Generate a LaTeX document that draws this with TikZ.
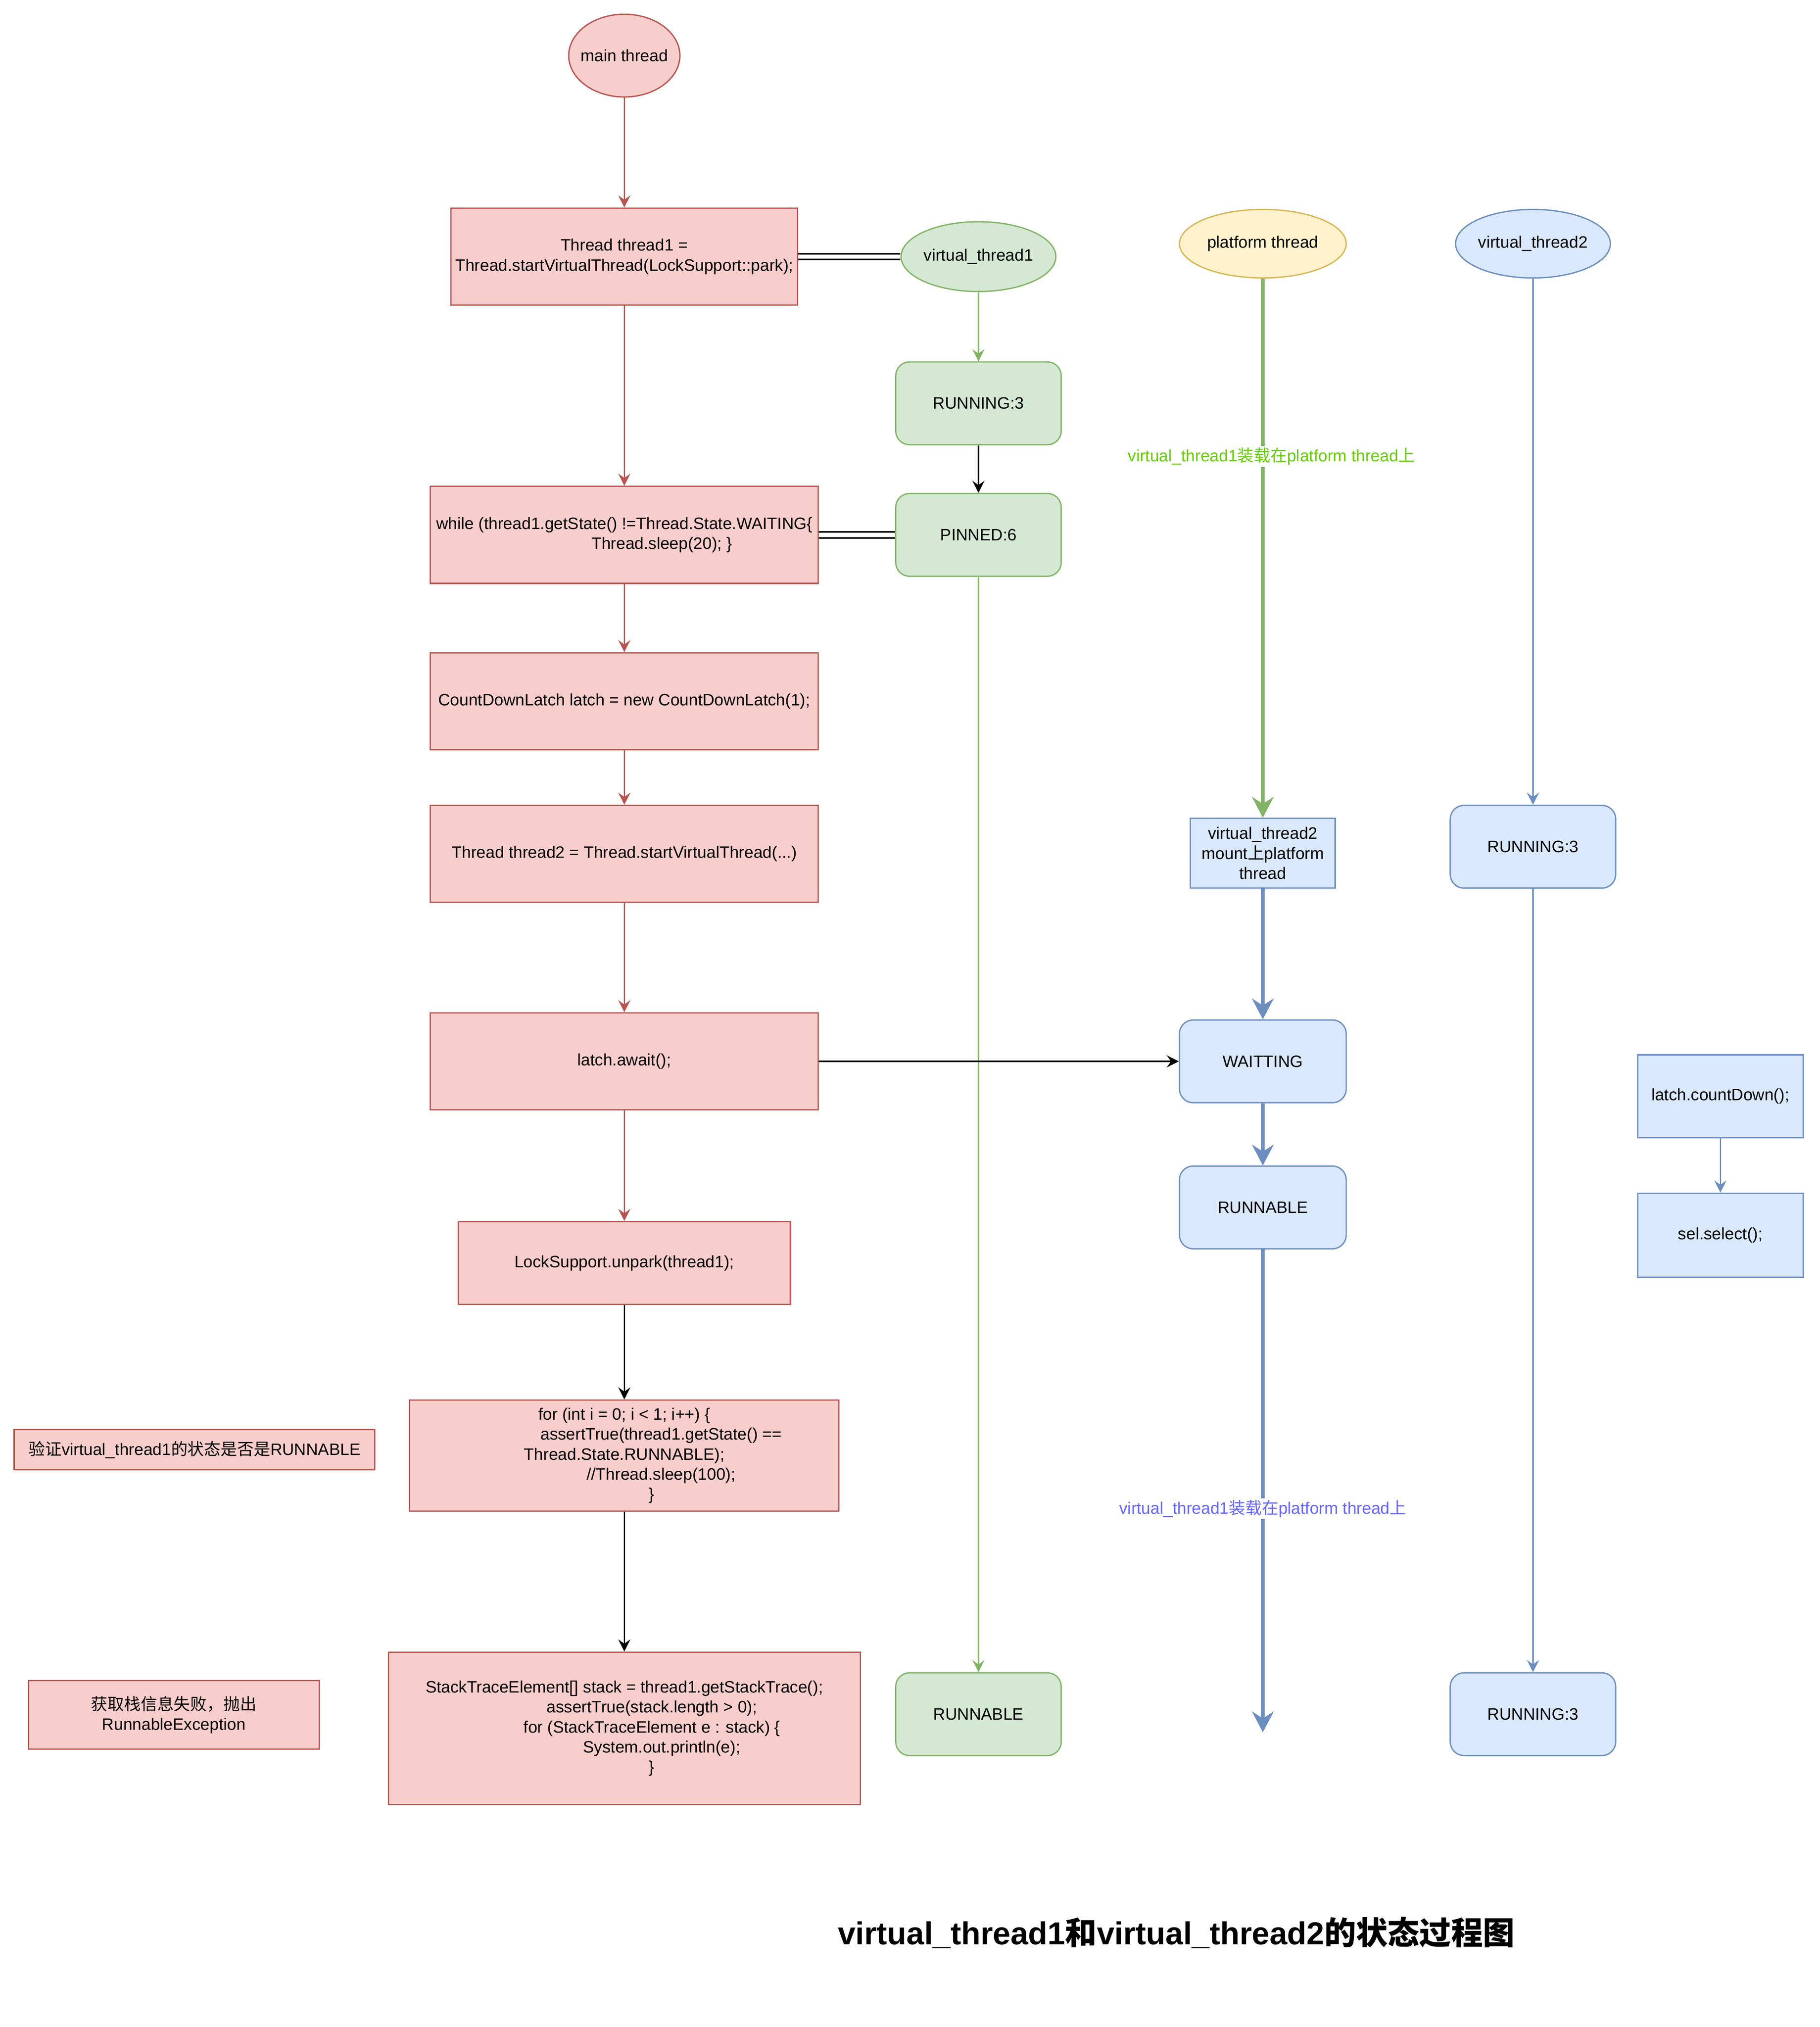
\documentclass[tikz,border=0pt]{standalone}
\usepackage{fontspec}
\setmainfont{Liberation Sans}
\newfontfamily\cjk{Noto Sans CJK SC}
\usetikzlibrary{arrows.meta,shapes.geometric}

\definecolor{redfill}{HTML}{F8CECC}
\definecolor{redline}{HTML}{B85450}
\definecolor{greenfill}{HTML}{D5E8D4}
\definecolor{greenline}{HTML}{82B366}
\definecolor{bluefill}{HTML}{DAE8FC}
\definecolor{blueline}{HTML}{6C8EBF}
\definecolor{yellowfill}{HTML}{FFF2CC}
\definecolor{yellowline}{HTML}{D6B656}
\definecolor{labelgreen}{HTML}{66CC00}
\definecolor{labelblue}{HTML}{6666FF}

\newcommand\zh[1]{{\cjk #1}}

\tikzset{
  px/.style 2 args={minimum width=#1*0.75pt, minimum height=#2*0.75pt},
  shape base/.style={line width=0.75pt, inner sep=0pt, align=center},
  redbox/.style={shape base, draw=redline, fill=redfill},
  greenbox/.style={shape base, draw=greenline, fill=greenfill},
  bluebox/.style={shape base, draw=blueline, fill=bluefill},
  yellowbox/.style={shape base, draw=yellowline, fill=yellowfill},
  greenstate/.style={greenbox, rounded corners=8pt, px={128}{64}},
  bluestate/.style={bluebox, rounded corners=8pt, px={128}{64}},
  thin tip/.style={-{Stealth[length=7pt,width=7pt,inset=2.5pt]}},
  thick tip/.style={-{Stealth[length=12pt,width=12.5pt,inset=4pt]}},
  redarrow/.style={draw=redline, line width=0.75pt, thin tip},
  blackarrow/.style={draw=black, line width=0.75pt, thin tip},
  greenarrow/.style={draw=greenline, line width=0.75pt, thin tip},
  bluearrow/.style={draw=blueline, line width=0.75pt, thin tip},
  thickgreen/.style={draw=greenline, line width=2.25pt, thick tip},
  thickblue/.style={draw=blueline, line width=2.25pt, thick tip},
  link/.style={draw=black, double, double distance=2.5pt, line width=0.9pt},
  edgelabel/.style={fill=white, inner sep=1pt}
}

\begin{document}
\begin{tikzpicture}[x=0.75pt,y=-0.75pt,font=\fontsize{9.6}{11.6}\selectfont]
  \useasboundingbox (0,0) rectangle (1408,1568);

  \newcommand\Xmain{483}
  \newcommand\Xvone{757}
  \newcommand\Xplat{977}
  \newcommand\Xvtwo{1186}

  %% main thread column
  \node[ellipse, redbox, inner xsep=-3pt, px={86}{64}] (main) at (\Xmain,43) {main thread};
  \node[redbox, px={268}{75}] (start1) at (\Xmain,198.5)
    {Thread thread1 =\\Thread.startVirtualThread(LockSupport::park);};
  \node[redbox, px={300}{75}] (loop) at (\Xmain,413.75)
    {while (thread1.getState() !=Thread.State.WAITING\{\\\hspace*{43.5pt}Thread.sleep(20); \}};
  \node[redbox, px={300}{75}] (latch) at (\Xmain,542.5)
    {CountDownLatch latch = new CountDownLatch(1);};
  \node[redbox, px={300}{75}] (start2) at (\Xmain,660.5)
    {Thread thread2 = Thread.startVirtualThread(...)};
  \node[redbox, px={300}{75}] (await) at (\Xmain,821) {latch.await();};
  \node[redbox, px={257}{64}] (unpark) at (\Xmain,977) {LockSupport.unpark(thread1);};
  \node[redbox, px={332}{86}] (check) at (\Xmain,1126)
    {for (int i = 0; i < 1; i++) \{\\
     \hspace*{42.75pt}assertTrue(thread1.getState() ==\\
     Thread.State.RUNNABLE);\\
     \hspace*{42.75pt}//Thread.sleep(100);\\
     \hspace*{31.5pt}\}};
  \node[redbox, px={365}{118}] (stack) at (\Xmain,1337)
    {StackTraceElement[] stack = thread1.getStackTrace();\\
     \hspace*{32pt}assertTrue(stack.length > 0);\\
     \hspace*{32pt}for (StackTraceElement e : stack) \{\\
     \hspace*{43.5pt}System.out.println(e);\\
     \hspace*{31.5pt}\}};

  %% notes on the left
  \node[redbox, px={279}{31}] (note1) at (150.5,1121.5)
    {\zh{验证}virtual\_thread1\zh{的状态是否是}RUNNABLE};
  \node[redbox, px={225}{53}] (note2) at (134.5,1326.5)
    {\zh{获取栈信息失败，抛出}\\RunnableException};

  %% virtual_thread1 column
  \node[ellipse, greenbox, px={118}{54}] (vt1) at (\Xvone,198.5) {virtual\_thread1};
  \node[greenstate] (running1) at (\Xvone,312) {RUNNING:3};
  \node[greenstate] (pinned) at (\Xvone,413.75) {PINNED:6};
  \node[greenstate] (runnable1) at (\Xvone,1326) {RUNNABLE};

  %% platform thread column
  \node[ellipse, yellowbox, px={129}{53}] (plat) at (\Xplat,188.5) {platform thread};
  \node[bluebox, px={112}{54}] (mount) at (\Xplat,660)
    {virtual\_thread2\\mount\zh{上}platform\\thread};
  \node[bluestate, px={129}{64}] (waiting) at (\Xplat,821) {WAITTING};
  \node[bluestate, px={129}{64}] (runnable2) at (\Xplat,934) {RUNNABLE};
  \coordinate (platend) at (\Xplat,1340);

  %% virtual_thread2 column
  \node[ellipse, bluebox, px={118}{53}] (vt2) at (\Xvtwo,188.5) {virtual\_thread2};
  \node[bluestate] (running2) at (\Xvtwo,655) {RUNNING:3};
  \node[bluestate] (running3) at (\Xvtwo,1326) {RUNNING:3};

  \node[bluebox, px={128}{64}] (countdown) at (1331,848) {latch.countDown();};
  \node[bluebox, px={128}{65}] (select) at (1331,955.5) {sel.select();};

  \node[font=\fontsize{18.4}{22}\selectfont\bfseries] (title) at (910,1495)
    {virtual\_thread1\zh{和}virtual\_thread2\zh{的状态过程图}};

  %% main -> ... -> stack
  \draw[redarrow] (main) -- (start1);
  \draw[redarrow] (start1) -- (loop);
  \draw[redarrow] (loop) -- (latch);
  \draw[redarrow] (latch) -- (start2);
  \draw[redarrow] (start2) -- (await);
  \draw[redarrow] (await) -- (unpark);
  \draw[blackarrow] (unpark) -- (check);
  \draw[blackarrow] (check) -- (stack);

  %% links to virtual_thread1
  \draw[link] (start1.east) -- (vt1.west);
  \draw[link] (loop.east) -- (pinned.west);

  \draw[greenarrow] (vt1) -- (running1);
  \draw[blackarrow] (running1) -- (pinned);
  \draw[greenarrow] (pinned) -- (runnable1);

  %% platform thread
  \draw[thickgreen] (plat) -- node[edgelabel, text=labelgreen, pos=0.33, xshift=5]
    {virtual\_thread1\zh{装载在}platform thread\zh{上}} (mount);
  \draw[thickblue] (mount) -- (waiting);
  \draw[thickblue] (waiting) -- (runnable2);
  \draw[thickblue] (runnable2) -- node[edgelabel, text=labelblue, pos=0.537]
    {virtual\_thread1\zh{装载在}platform thread\zh{上}} (platend);
  \draw[blackarrow] (await) -- (waiting);

  %% virtual_thread2
  \draw[bluearrow] (vt2) -- (running2);
  \draw[bluearrow] (running2) -- (running3);
  \draw[bluearrow] (countdown) -- (select);

\end{tikzpicture}
\end{document}
